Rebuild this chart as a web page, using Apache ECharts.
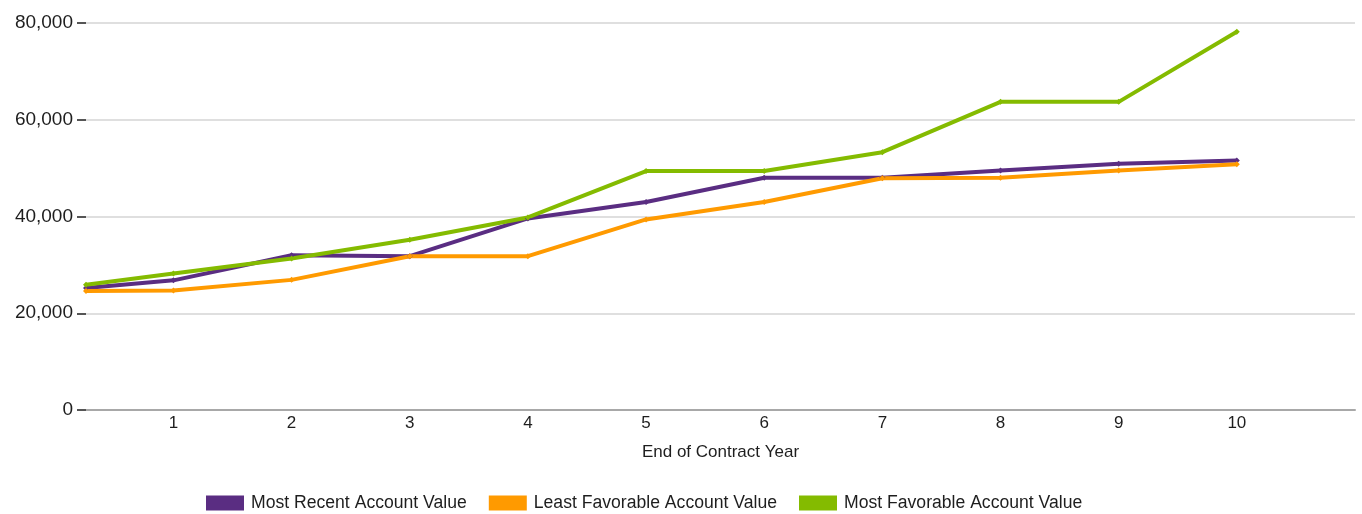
<!DOCTYPE html>
<html>
<head>
<meta charset="utf-8">
<script src="https://cdn.jsdelivr.net/npm/echarts@6/dist/echarts.min.js"></script>
<style>
html,body{margin:0;padding:0;background:#fff;}
#chart{width:1362px;height:514px;}
</style>
</head>
<body>
<div id="chart"></div>
<script>
const years = [0.26, 1, 2, 3, 4, 5, 6, 7, 8, 9, 10];
const mostRecent = [25200, 26800, 32000, 31800, 39600, 43000, 48000, 48000, 49500, 50900, 51600];
const leastFavorable = [24600, 24700, 26900, 31800, 31800, 39400, 43000, 47900, 48000, 49500, 50800];
const mostFavorable = [25900, 28200, 31300, 35200, 39800, 49400, 49400, 53300, 63700, 63700, 78200];
const seriesNames = ['Most Recent Account Value', 'Least Favorable Account Value', 'Most Favorable Account Value'];
const colors = ['#5a2d82', '#ff9a00', '#84bb00'];

const pairs = arr => years.map((x, i) => [x, arr[i]]);
const font = 'Liberation Sans, Arial, sans-serif';

const chart = echarts.init(document.getElementById('chart'), null, {renderer: 'canvas'});
const mk = (name, data, color) => ({
  name, type: 'line', data: pairs(data),
  symbol: 'diamond', symbolSize: 6, showSymbol: true,
  lineStyle: {width: 4, color},
  itemStyle: {color},
  animation: false
});
chart.setOption({
  animation: false,
  color: colors,
  grid: {left: 86, right: 7, top: 23, bottom: 104, containLabel: false},
  xAxis: {
    type: 'value', min: 0.26, max: 11, splitNumber: 10,
    name: 'End of Contract Year', nameLocation: 'middle', nameGap: 34,
    nameTextStyle: {fontFamily: font, fontSize: 17, color: '#1e1e1e'},
    axisLine: {show: true, lineStyle: {color: '#a8a8a8', width: 2}},
    axisTick: {show: false},
    splitLine: {show: false},
    axisLabel: {
      margin: 5, fontFamily: font, fontSize: 17, color: '#1e1e1e',
      showMinLabel: false, showMaxLabel: false,
      formatter: v => (Math.abs(v - Math.round(v)) < 1e-6 && v >= 1 && v <= 10) ? String(Math.round(v)) : ''
    }
  },
  yAxis: {
    type: 'value', min: 0, max: 80000, interval: 20000,
    axisLine: {show: false},
    axisTick: {show: true, length: 9, lineStyle: {color: '#555', width: 2}},
    splitLine: {show: true, lineStyle: {color: '#d4d4d4', width: 1.5}},
    axisLabel: {
      margin: 13, fontFamily: font, fontSize: 19, color: '#1e1e1e',
      formatter: v => v.toLocaleString('en-US')
    }
  },
  legend: {
    data: seriesNames, left: 201, top: 489,
    itemWidth: 38, itemHeight: 15, itemGap: 22,
    icon: 'rect',
    textStyle: {fontFamily: font, fontSize: 17.6, color: '#1e1e1e', padding: [6, 0, 0, 2]}
  },
  series: [
    mk(seriesNames[0], mostRecent, colors[0]),
    mk(seriesNames[1], leastFavorable, colors[1]),
    mk(seriesNames[2], mostFavorable, colors[2])
  ]
});
</script>
</body>
</html>
